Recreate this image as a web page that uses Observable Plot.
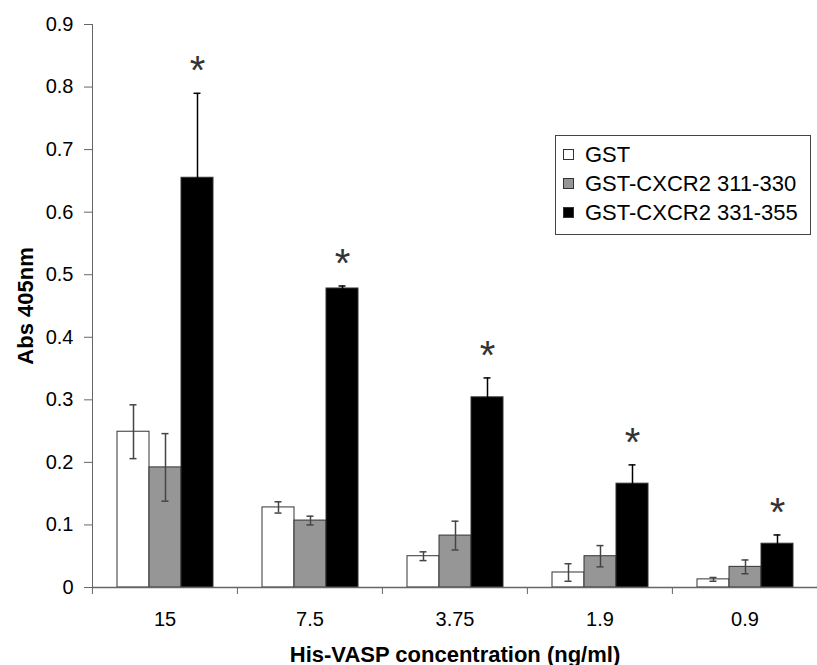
<!DOCTYPE html>
<html>
<head>
<meta charset="utf-8">
<script src="https://cdn.jsdelivr.net/npm/d3@7"></script>
<script src="https://cdn.jsdelivr.net/npm/@observablehq/plot@0.6"></script>
<style>
  html, body { margin: 0; padding: 0; background: white; }
  #wrap { position: relative; width: 817px; height: 665px; font-family: "Liberation Sans", Arial, sans-serif; }
  #wrap svg [aria-label="y-axis label"], #wrap svg [aria-label="fx-axis label"] { font-weight: bold; font-size: 22px; }
  #wrap svg [aria-label*="label"] { fill: black; }
  #legend { position: absolute; left: 555px; top: 135px; width: 256px; height: 100px; box-sizing: border-box;
    border: 1px solid #444; background: white; padding: 4px 0 0 7px; }
  .row { display: flex; align-items: center; height: 29px; font-size: 22px; color: black; }
  .sw { width: 11px; height: 11px; box-sizing: border-box; border: 1px solid #333; margin-right: 11px; }
</style>
</head>
<body>
<div id="wrap"></div>
<script>
const concentrations = ["15", "7.5", "3.75", "1.9", "0.9"];
const series = ["GST", "GST-CXCR2 311-330", "GST-CXCR2 331-355"];
const seriesColors = ["white", "#969696", "black"];
const gstMean = [0.249, 0.128, 0.050, 0.024, 0.013];
const gstErr = [0.043, 0.009, 0.007, 0.014, 0.003];
const s311Mean = [0.192, 0.107, 0.083, 0.050, 0.033];
const s311Err = [0.054, 0.007, 0.023, 0.017, 0.011];
const s331Mean = [0.655, 0.478, 0.304, 0.166, 0.070];
const s331Err = [0.135, 0.004, 0.031, 0.030, 0.014];
const s331Significant = [true, true, true, true, true];

const means = [gstMean, s311Mean, s331Mean];
const errs = [gstErr, s311Err, s331Err];
const data = [];
series.forEach((s, j) => {
  concentrations.forEach((c, i) => {
    data.push({conc: c, series: s, value: means[j][i], err: errs[j][i],
      sig: j === 2 && s331Significant[i]});
  });
});
const stars = data.filter(d => d.sig);
const errColor = d => d.series === series[2] ? "black" : "#444";

const chart = Plot.plot({
  width: 817,
  height: 665,
  marginLeft: 91,
  marginRight: 0,
  marginTop: 24,
  marginBottom: 78,
  style: {fontFamily: "Liberation Sans, Arial, sans-serif", fontSize: "20px", color: "#666", background: "white"},
  fx: {domain: concentrations, padding: 0, label: null},
  x: {domain: series, paddingInner: 0, paddingOuter: 0.7, axis: null},
  y: {domain: [0, 0.9], ticks: 9, tickFormat: d3.format("~f"), label: "Abs 405nm", labelArrow: "none",
      labelAnchor: "center", labelOffset: 75, line: true, tickSize: 8, tickPadding: 11},
  color: {domain: series, range: seriesColors},
  marks: [
    Plot.barY(data, {fx: "conc", x: "series", y: "value", fill: "series", stroke: "#333", strokeWidth: 1}),
    Plot.ruleX(data, {fx: "conc", x: "series", y1: d => d.value - d.err, y2: d => d.value + d.err,
      stroke: errColor, strokeWidth: 1.5}),
    Plot.tickY(data, {fx: "conc", x: "series", y: d => d.value - d.err, stroke: errColor,
      strokeWidth: 1.5, insetLeft: 12.5, insetRight: 12.5}),
    Plot.tickY(data, {fx: "conc", x: "series", y: d => d.value + d.err, stroke: errColor,
      strokeWidth: 1.5, insetLeft: 12.5, insetRight: 12.5}),
    Plot.ruleY([0], {stroke: "#666", strokeWidth: 1.5}),
    Plot.text(stars, {fx: "conc", x: "series", y: d => d.value + d.err, text: () => "*",
      fontSize: 40, lineAnchor: "bottom", dy: -9, fill: "#333"}),
    Plot.axisFx({anchor: "bottom", tickSize: 0, tickPadding: 24, fontSize: 20,
      label: "His-VASP concentration (ng/ml)", labelAnchor: "center", labelOffset: 74}),
    Plot.axisFx({anchor: "bottom", tickSize: 7, tickFormat: () => "", label: null,
      dx: -(817 - 91) / 10, stroke: "#666"})
  ]
});

const wrap = document.getElementById("wrap");
wrap.appendChild(chart);

const legend = document.createElement("div");
legend.id = "legend";
series.forEach((s, j) => {
  const row = document.createElement("div");
  row.className = "row";
  const sw = document.createElement("span");
  sw.className = "sw";
  sw.style.background = seriesColors[j];
  const t = document.createElement("span");
  t.textContent = s;
  row.appendChild(sw);
  row.appendChild(t);
  legend.appendChild(row);
});
wrap.appendChild(legend);
</script>
</body>
</html>
